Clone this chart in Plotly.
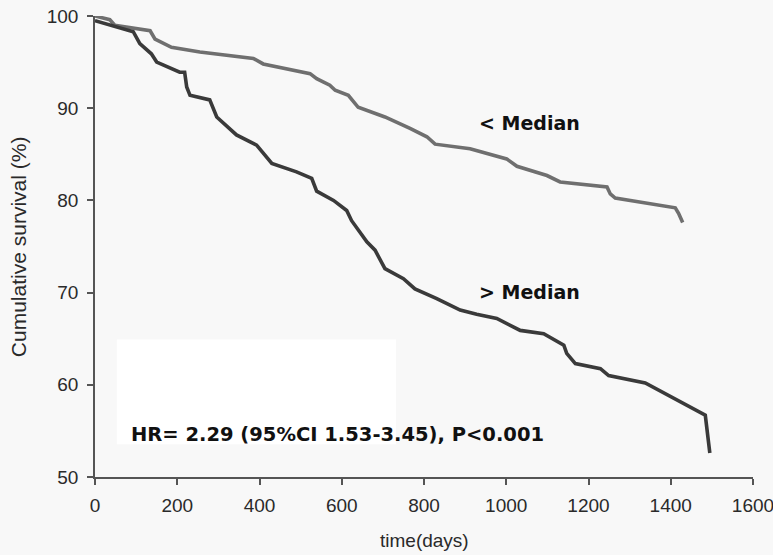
import plotly.graph_objects as go

# Kaplan-Meier style survival curves (days vs cumulative survival %)
below_days = [0, 36, 48, 134, 146, 186, 255, 385, 409, 523, 539, 571, 584, 616, 640,
              705, 766, 807, 827, 912, 1001, 1026, 1099, 1131, 1245, 1253, 1265,
              1411, 1419, 1429]
below_surv = [100, 99.6, 99.0, 98.4, 97.5, 96.6, 96.1, 95.4, 94.8, 93.75, 93.2, 92.5,
              91.95, 91.4, 90.1, 89.05, 87.8, 86.9, 86.1, 85.6, 84.5, 83.7, 82.7,
              82.0, 81.45, 80.7, 80.25, 79.2, 78.6, 77.6]

above_days = [0, 93, 109, 137, 150, 206, 218, 223, 231, 279, 296, 344, 393, 430,
              490, 527, 539, 580, 612, 624, 661, 681, 705, 750, 778, 831, 888, 928,
              977, 1034, 1091, 1140, 1147, 1168, 1229, 1249, 1338, 1484, 1495]
above_surv = [99.5, 98.3, 97.0, 95.9, 95.0, 93.9, 93.9, 92.3, 91.4, 90.9, 89.05,
              87.1, 86.0, 84.0, 83.1, 82.4, 81.0, 80.0, 78.9, 77.8, 75.5, 74.6, 72.6,
              71.5, 70.4, 69.35, 68.1, 67.65, 67.2, 65.9, 65.55, 64.3, 63.4, 62.3,
              61.75, 61.0, 60.2, 56.7, 52.6]

group_labels = ["< Median", "> Median"]
hr_text = "HR= 2.29 (95%CI 1.53-3.45), P<0.001"
x_title = "time(days)"
y_title = "Cumulative survival (%)"

x_ticks = list(range(0, 1601, 200))
y_ticks = list(range(50, 101, 10))

fig = go.Figure()
fig.add_trace(go.Scatter(x=below_days, y=below_surv, mode="lines",
                         line=dict(color="#6f6f6f", width=3.6),
                         cliponaxis=False, name=group_labels[0]))
fig.add_trace(go.Scatter(x=above_days, y=above_surv, mode="lines",
                         line=dict(color="#3a3a3a", width=3.6),
                         cliponaxis=False, name=group_labels[1]))

# white panel behind the hazard-ratio note
fig.add_shape(type="rect", xref="x", yref="y", x0=53, x1=732, y0=53.55, y1=64.9,
              fillcolor="#ffffff", line=dict(width=0), layer="below")

label_font = dict(family="DejaVu Sans", size=19, color="#111111", weight="bold")
fig.add_annotation(x=928, y=88.4, text=group_labels[0], showarrow=False,
                   xanchor="left", yanchor="middle", font=label_font)
fig.add_annotation(x=928, y=70.1, text=group_labels[1], showarrow=False,
                   xanchor="left", yanchor="middle", font=label_font)
fig.add_annotation(x=82, y=54.63, text=hr_text, showarrow=False,
                   xanchor="left", yanchor="middle",
                   font=dict(family="DejaVu Sans", size=19.5, color="#111111",
                             weight="bold"))

# axis titles placed as paper-anchored text
fig.add_annotation(xref="paper", yref="paper", x=0.5, y=-0.137, text=x_title,
                   showarrow=False, xanchor="center", yanchor="middle",
                   font=dict(family="Liberation Sans", size=19, color="#2a2a2a"))
fig.add_annotation(xref="paper", yref="paper", x=-0.116, y=0.5, text=y_title,
                   showarrow=False, xanchor="center", yanchor="middle",
                   textangle=-90,
                   font=dict(family="Liberation Sans", size=21, color="#2a2a2a"))

axis_common = dict(showgrid=False, zeroline=False, showline=True, automargin=False,
                   linecolor="#555555", linewidth=1.5, ticks="outside",
                   ticklen=6, tickwidth=1.5, tickcolor="#555555",
                   ticklabeloverflow="allow",
                   tickfont=dict(family="Liberation Sans", size=19, color="#2a2a2a"))

fig.update_xaxes(range=[0, 1600], tickvals=x_ticks, ticklabelstandoff=4,
                 **axis_common)
fig.update_yaxes(range=[50, 100], tickvals=y_ticks, ticklabelstandoff=5,
                 **axis_common)

fig.update_layout(width=773, height=555, showlegend=False,
                  margin=dict(l=95, r=20, t=16, b=78),
                  paper_bgcolor="#f8f8f8", plot_bgcolor="#f8f8f8")

fig.write_html("out.html")
